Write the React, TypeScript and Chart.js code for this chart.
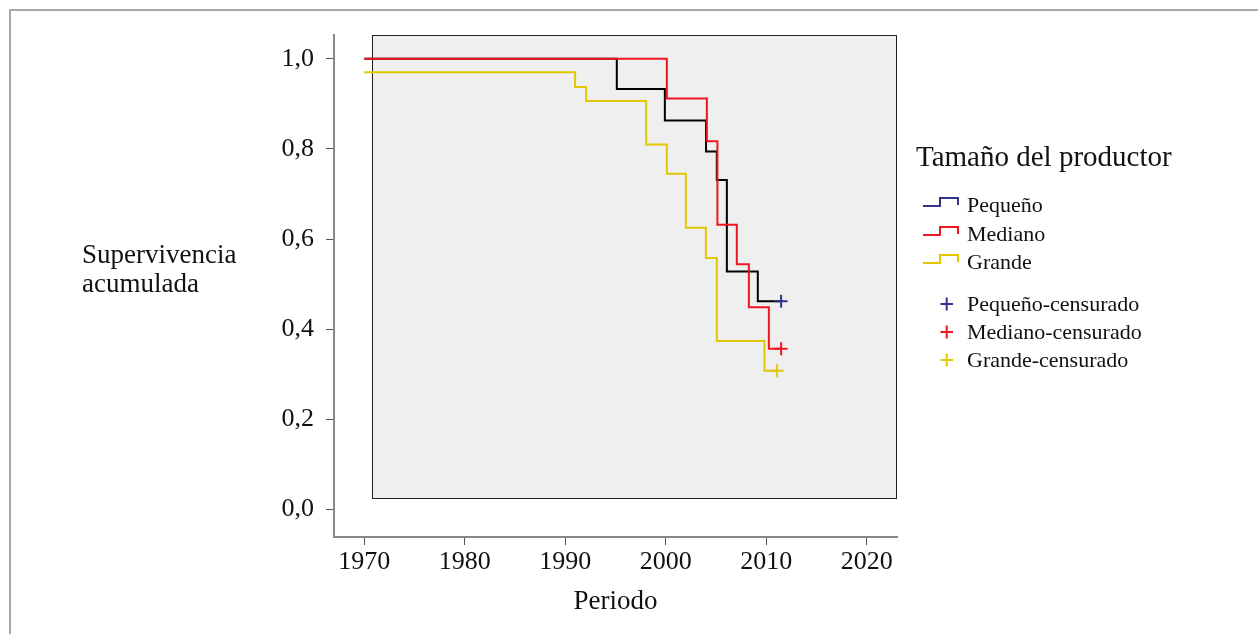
import React, { useEffect, useRef } from "react";
import { Chart, registerables } from "chart.js";

Chart.register(...registerables);

// ---------- data ----------
const X_TICKS = [1970, 1980, 1990, 2000, 2010, 2020];
const Y_TICKS = [0, 0.2, 0.4, 0.6, 0.8, 1.0];

const GROUPS = ["Pequeño", "Mediano", "Grande"];
const CENSOR_LABELS = ["Pequeño-censurado", "Mediano-censurado", "Grande-censurado"];
const LEGEND_TITLE = "Tamaño del productor";
const Y_TITLE = ["Supervivencia", "acumulada"];
const X_TITLE = "Periodo";

// Kaplan-Meier steps (time, survival after the step)
const PEQ_T = [1970, 1995.12, 1999.9, 2004.0, 2005.07, 2006.07, 2009.15, 2011.47];
const PEQ_S = [1.0, 0.933, 0.863, 0.794, 0.731, 0.528, 0.462, 0.462];

const MED_T = [1970, 2000.1, 2004.08, 2005.13, 2007.06, 2008.26, 2010.25, 2011.47];
const MED_S = [1.0, 0.912, 0.817, 0.632, 0.544, 0.449, 0.357, 0.357];

const GRA_T = [1970, 1990.97, 1992.06, 1998.04, 2000.1, 2001.99, 2003.98, 2005.07, 2009.81, 2011.07];
const GRA_S = [0.97, 0.937, 0.906, 0.81, 0.745, 0.625, 0.558, 0.374, 0.308, 0.308];

// censored observations
const PEQ_CENS_T = [2011.47];
const PEQ_CENS_S = [0.462];
const MED_CENS_T = [2011.47];
const MED_CENS_S = [0.357];
const GRA_CENS_T = [2011.07];
const GRA_CENS_S = [0.308];

// ---------- styles ----------
const FONT = "'Liberation Serif', 'Times New Roman', serif";
const LINE_COLORS = ["#000000", "#ee1620", "#e2c800"];
const LEGEND_COLORS = ["#33338c", "#ee1620", "#e2c800"];
const PLOT_BG = "#efefef";

const X_MIN = 1966.98;
const X_MAX = 2023.0;
const Y_MIN = -0.0608;
const Y_MAX = 1.0526;
const BOX_X0 = 1970.74;
const BOX_Y0 = 0.025;

const toPts = (t: number[], s: number[]) => t.map((x, i) => ({ x, y: s[i] }));

export default function App() {
  const ref = useRef<HTMLCanvasElement | null>(null);

  useEffect(() => {
    if (!ref.current) return;

    const boxPlugin = {
      id: "plotBox",
      beforeDatasetsDraw(chart: any) {
        const { ctx, scales } = chart;
        const x0 = scales.x.getPixelForValue(BOX_X0);
        const x1 = scales.x.getPixelForValue(X_MAX);
        const y0 = scales.y.getPixelForValue(Y_MAX);
        const y1 = scales.y.getPixelForValue(BOX_Y0);
        ctx.save();
        ctx.fillStyle = PLOT_BG;
        ctx.fillRect(x0, y0, x1 - x0, y1 - y0);
        ctx.strokeStyle = "#222";
        ctx.lineWidth = 1;
        ctx.strokeRect(Math.round(x0) + 0.5, Math.round(y0) + 0.5, Math.round(x1 - x0) - 1, Math.round(y1 - y0));
        ctx.restore();
      },
    };

    const textPlugin = {
      id: "texts",
      afterDraw(chart: any) {
        const { ctx, scales } = chart;
        ctx.save();
        ctx.fillStyle = "#111";
        ctx.textBaseline = "alphabetic";
        // y title
        ctx.font = `27px ${FONT}`;
        ctx.textAlign = "left";
        ctx.fillText(Y_TITLE[0], 82, 263);
        ctx.fillText(Y_TITLE[1], 82, 292);
        // x title
        ctx.textAlign = "center";
        const cx = (scales.x.getPixelForValue(X_TICKS[0]) + scales.x.getPixelForValue(X_TICKS[X_TICKS.length - 1])) / 2;
        ctx.fillText(X_TITLE, cx, 609);
        // legend title
        ctx.textAlign = "left";
        ctx.font = `29px ${FONT}`;
        ctx.fillText(LEGEND_TITLE, 916, 166);
        // legend lines
        ctx.font = `22px ${FONT}`;
        const lineBase = [212, 241, 269];
        GROUPS.forEach((g, i) => {
          const b = lineBase[i];
          ctx.strokeStyle = LEGEND_COLORS[i];
          ctx.lineWidth = 2;
          ctx.beginPath();
          ctx.moveTo(923, b - 6);
          ctx.lineTo(940, b - 6);
          ctx.lineTo(940, b - 14);
          ctx.lineTo(958, b - 14);
          ctx.lineTo(958, b - 7);
          ctx.stroke();
          ctx.fillStyle = "#111";
          ctx.fillText(g, 967, b);
        });
        const censBase = [311, 339, 367];
        CENSOR_LABELS.forEach((g, i) => {
          const b = censBase[i];
          const cy = b - 7;
          ctx.strokeStyle = LEGEND_COLORS[i];
          ctx.lineWidth = 2;
          ctx.beginPath();
          ctx.moveTo(940.5, cy);
          ctx.lineTo(953, cy);
          ctx.moveTo(946.7, cy - 6.5);
          ctx.lineTo(946.7, cy + 6.5);
          ctx.stroke();
          ctx.fillStyle = "#111";
          ctx.fillText(g, 967, b);
        });
        ctx.restore();
      },
    };

    const lineDs = (label: string, t: number[], s: number[], color: string, order: number) => ({
      type: "line" as const,
      label,
      data: toPts(t, s),
      stepped: true,
      borderColor: color,
      backgroundColor: color,
      borderWidth: 2,
      pointRadius: 0,
      fill: false,
      order,
    });
    const censDs = (label: string, t: number[], s: number[], color: string) => ({
      type: "scatter" as const,
      label,
      data: toPts(t, s),
      pointStyle: "cross",
      pointRadius: 6.5,
      pointBorderWidth: 2,
      borderColor: color,
      backgroundColor: color,
      borderWidth: 2,
      showLine: false,
      order: 0,
    });

    const chart = new Chart(ref.current, {
      type: "line",
      data: {
        datasets: [
          lineDs(GROUPS[0], PEQ_T, PEQ_S, LINE_COLORS[0], 2),
          lineDs(GROUPS[1], MED_T, MED_S, LINE_COLORS[1], 1),
          lineDs(GROUPS[2], GRA_T, GRA_S, LINE_COLORS[2], 3),
          censDs(CENSOR_LABELS[0], PEQ_CENS_T, PEQ_CENS_S, LEGEND_COLORS[0]),
          censDs(CENSOR_LABELS[1], MED_CENS_T, MED_CENS_S, LEGEND_COLORS[1]),
          censDs(CENSOR_LABELS[2], GRA_CENS_T, GRA_CENS_S, LEGEND_COLORS[2]),
        ] as any,
      },
      options: {
        responsive: false,
        animation: false,
        devicePixelRatio: 1,
        layout: { padding: { left: 274, right: 1258 - 897, top: 35, bottom: 634 - 537 - 60 } },
        plugins: { legend: { display: false }, tooltip: { enabled: false } },
        scales: {
          x: {
            type: "linear",
            min: X_MIN,
            max: X_MAX,
            afterFit: (s: any) => { s.height = 60; },
            afterBuildTicks: (s: any) => { s.ticks = X_TICKS.map((v) => ({ value: v })); },
            ticks: {
              font: { family: FONT, size: 26 },
              color: "#111",
              padding: 2,
              maxRotation: 0,
              callback: (v: any) => String(v),
            },
            grid: { display: true, drawOnChartArea: false, drawTicks: true, tickLength: 8, color: "#555", lineWidth: 1 },
            border: { display: true, color: "#888", width: 2 },
          },
          y: {
            type: "linear",
            min: Y_MIN,
            max: Y_MAX,
            afterFit: (s: any) => { s.width = 60; },
            afterBuildTicks: (s: any) => { s.ticks = Y_TICKS.map((v) => ({ value: v })); },
            ticks: {
              font: { family: FONT, size: 26 },
              color: "#111",
              padding: 12,
              callback: (v: any) => Number(v).toFixed(1).replace(".", ","),
            },
            grid: { display: true, drawOnChartArea: false, drawTicks: true, tickLength: 8, color: "#555", lineWidth: 1 },
            border: { display: true, color: "#888", width: 2 },
          },
        },
      } as any,
      plugins: [boxPlugin, textPlugin],
    });
    return () => chart.destroy();
  }, []);

  return (
    <div style={{ position: "fixed", left: 0, top: 0, width: 1258, height: 634, overflow: "hidden", background: "#fff" }}>
      <div
        style={{
          position: "absolute",
          left: 9,
          top: 9,
          width: 1300,
          height: 700,
          border: "2px solid #a8a8a8",
          boxSizing: "border-box",
        }}
      />
      <canvas ref={ref} width={1258} height={634} style={{ position: "absolute", left: 0, top: 0 }} />
    </div>
  );
}
